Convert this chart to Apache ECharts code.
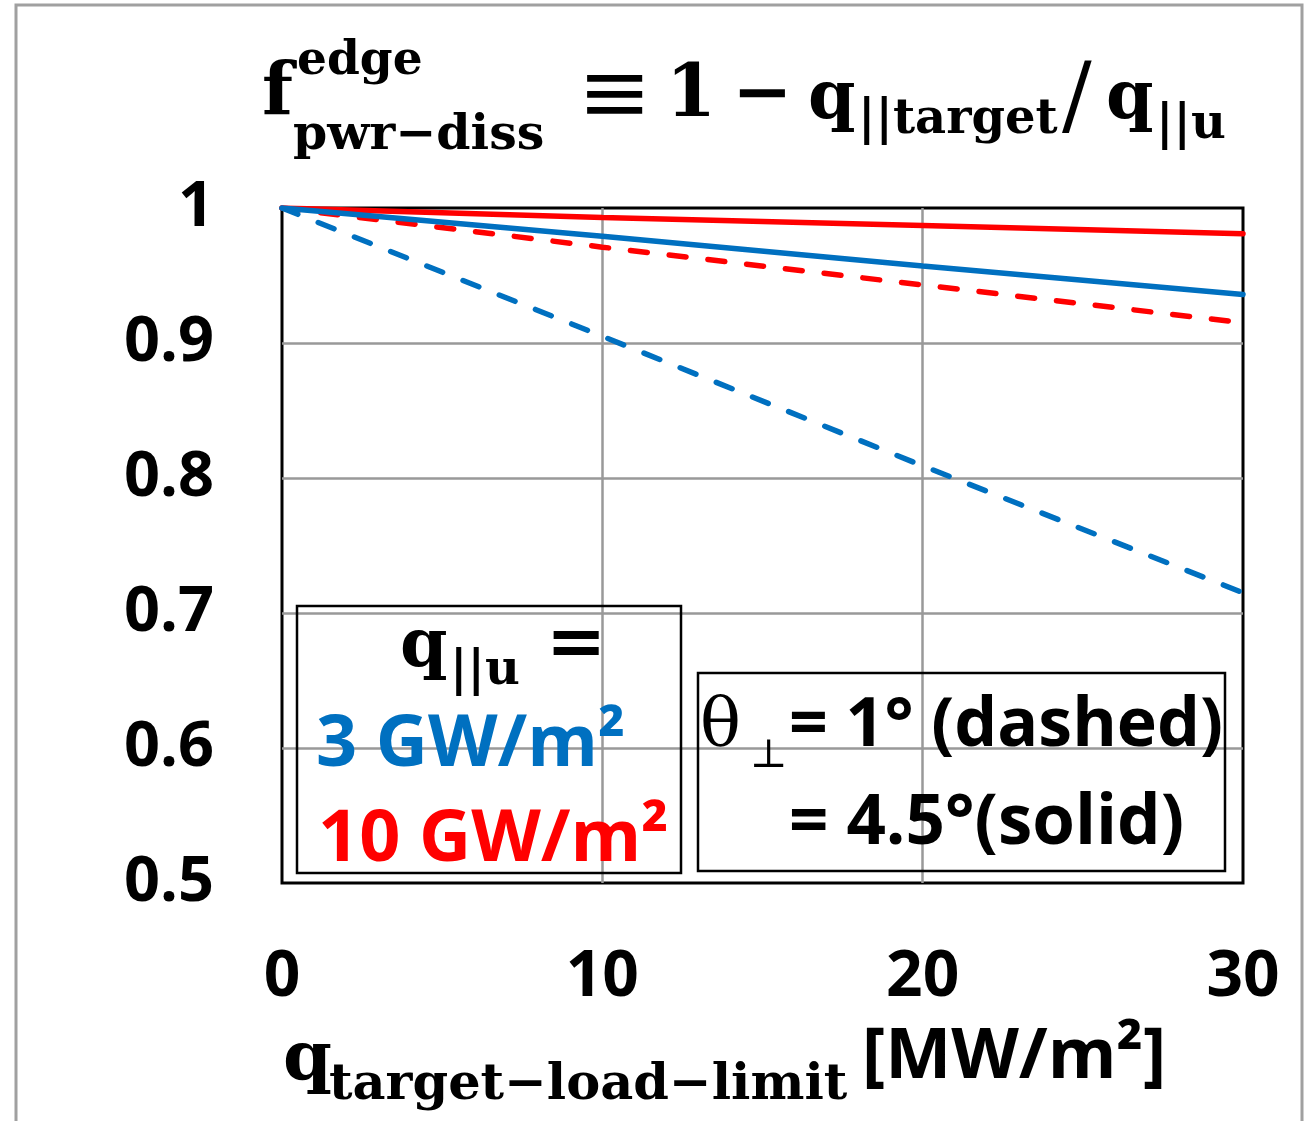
<!DOCTYPE html>
<html>
<head>
<meta charset="utf-8">
<script src="https://cdn.jsdelivr.net/npm/echarts@6/dist/echarts.min.js"></script>
<style>
  html, body { margin: 0; padding: 0; background: #fff; }
  #chart { width: 1306px; height: 1121px; }
</style>
</head>
<body>
<div id="chart"></div>
<script>
// q_target-load-limit [MW/m2]
var xValues = [0, 10, 20, 30]
// f_pwr-diss for q_||u = 3 GW/m2
var blueDashed = [1, 0.905, 0.809, 0.715]   // theta = 1 deg
var blueSolid = [1, 0.979, 0.957, 0.936]    // theta = 4.5 deg
// f_pwr-diss for q_||u = 10 GW/m2
var redDashed = [1, 0.971, 0.943, 0.915]
var redSolid = [1, 0.993, 0.987, 0.981]
var yTickLabels = ['0.5', '0.6', '0.7', '0.8', '0.9', '1']

var BLUE = '#0070C0'
var RED = '#FF0000'
var SERIF = '"DejaVu Serif", serif'
var SANS = '"Open Sans", sans-serif'

function pairs(ys) {
  return xValues.map(function (x, i) { return [x, ys[i]] })
}

// text placed by its baseline (canvas 'middle' sits (asc-desc)/2 above baseline)
function txt(str, x, baseline, fs, font, color, weight) {
  var k = font === SANS ? 0.388 : 0.346
  return {
    type: 'text',
    left: x,
    top: baseline - k * fs - fs / 2,
    z: 50,
    style: {
      text: str,
      fill: color || '#000',
      font: (weight || 'bold') + ' ' + fs + 'px ' + font,
      textVerticalAlign: 'top'
    }
  }
}

function makeLine(name, ys, color, dashed) {
  return {
    name: name,
    type: 'line',
    data: pairs(ys),
    symbol: 'none',
    lineStyle: {
      color: color,
      width: 5.5,
      type: dashed ? [17, 22] : 'solid',
      cap: 'round'
    }
  }
}

var chart = echarts.init(document.getElementById('chart'))
chart.setOption({
  backgroundColor: '#fff',
  animation: false,
  grid: {
    left: 282,
    right: 63,
    top: 208,
    bottom: 238,
    show: true,
    borderColor: '#000',
    borderWidth: 3
  },
  xAxis: {
    type: 'value',
    min: 0,
    max: 30,
    interval: 10,
    axisLine: { show: false },
    axisTick: { show: false },
    axisLabel: {
      margin: 63,
      fontFamily: SANS,
      fontWeight: 'bold',
      fontSize: 64,
      color: '#000'
    },
    splitLine: {
      show: true,
      showMinLine: false,
      showMaxLine: false,
      lineStyle: { color: '#999', width: 2.5 }
    }
  },
  yAxis: {
    type: 'value',
    min: 0.5,
    max: 1,
    interval: 0.1,
    axisLine: { show: false },
    axisTick: { show: false },
    axisLabel: {
      margin: 68,
      fontFamily: SANS,
      fontWeight: 'bold',
      fontSize: 63,
      color: '#000',
      formatter: function (v) {
        return yTickLabels[Math.round((v - 0.5) * 10)]
      }
    },
    splitLine: {
      show: true,
      showMinLine: false,
      showMaxLine: false,
      lineStyle: { color: '#999', width: 2.5 }
    }
  },
  series: [
    makeLine('10 GW/m² dashed', redDashed, RED, true),
    makeLine('10 GW/m² solid', redSolid, RED, false),
    makeLine('3 GW/m² dashed', blueDashed, BLUE, true),
    makeLine('3 GW/m² solid', blueSolid, BLUE, false)
  ],
  graphic: [
    // outer frame
    {
      type: 'rect', z: 40,
      shape: { x: 16, y: 5, width: 1286, height: 1200 },
      style: { fill: 'none', stroke: '#a0a0a0', lineWidth: 3 }
    },
    // title
    txt('f', 262, 121, 72, SERIF),
    txt('edge', 297, 78, 47, SERIF),
    txt('pwr−diss', 293, 153, 49, SERIF),
    txt('≡', 578, 130, 88, SERIF, '#000', 'normal'),
    txt('1', 666, 122, 72, SERIF),
    txt('−', 732, 122, 72, SERIF),
    txt('q', 808, 124, 68, SERIF),
    txt('||target', 858, 137, 48, SERIF),
    txt('/', 1062, 133, 88, SERIF, '#000', 'normal'),
    txt('q', 1106, 124, 68, SERIF),
    txt('||u', 1156, 142, 48, SERIF),
    // x axis title
    txt('q', 283, 1086, 70, SERIF),
    txt('target−load−limit', 329, 1103, 51, SERIF),
    txt('[MW/m²]', 862, 1085, 70, SANS),
    // legend box: q_||u
    {
      type: 'rect', z: 40,
      shape: { x: 297, y: 606, width: 384, height: 267 },
      style: { fill: 'none', stroke: '#000', lineWidth: 2.5 }
    },
    txt('q', 400, 672, 68, SERIF),
    txt('||u', 450, 688, 48, SERIF),
    txt('=', 546, 672, 72, SERIF),
    txt('3 GW/m²', 316, 773, 72, SANS, BLUE),
    txt('10 GW/m²', 318, 868, 72, SANS, RED),
    // legend box: theta
    {
      type: 'rect', z: 40,
      shape: { x: 698, y: 673, width: 527, height: 198 },
      style: { fill: 'none', stroke: '#000', lineWidth: 2.5 }
    },
    txt('θ', 700, 751, 68, SERIF, '#000', 'normal'),
    txt('⊥', 750, 770, 40, SERIF, '#000', 'normal'),
    txt('= 1° (dashed)', 789, 753, 68, SANS),
    txt('= 4.5°(solid)', 789, 851, 69, SANS)
  ]
})
</script>
</body>
</html>
